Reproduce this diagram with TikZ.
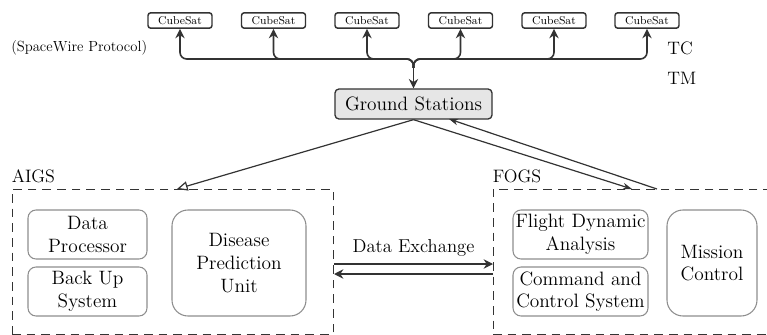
\documentclass[tikz,border=0pt]{standalone}
\usepackage{tikz}
\usetikzlibrary{arrows.meta}
\definecolor{ink}{HTML}{333333}
\definecolor{softgray}{HTML}{8E8E8E}
\definecolor{gsfill}{HTML}{E6E6E6}

\begin{document}
\begin{tikzpicture}[
      x=0.75pt, y=-0.75pt,
      sat/.style={draw=ink, line width=1.1pt, rounded corners=2pt, inner sep=0pt, minimum width=48pt, minimum height=11.5pt, font=\fontsize{8.5}{10}\selectfont},
      ground/.style={draw=ink, fill=gsfill, line width=1pt, rounded corners=3pt, inner sep=0pt, minimum width=117.75pt, minimum height=22.5pt, font=\fontsize{14.5}{17}\selectfont},
      unit/.style={draw=softgray, line width=0.8pt, rounded corners=6pt, align=center, inner sep=0pt, minimum height=36.75pt, font=\fontsize{14.5}{17}\selectfont},
      bigunit/.style={unit, rounded corners=12pt, minimum height=79.5pt},
      segment/.style={draw=ink, line width=0.7pt, dash pattern=on 6.5pt off 4.5pt, inner sep=0pt, minimum height=108.75pt},
      label/.style={inner sep=0pt, anchor=west, font=\fontsize{13.5}{16}\selectfont},
      link/.style={-{Stealth[length=7pt, width=7pt]}, draw=ink, line width=1.2pt},
      feed/.style={-{Stealth[length=7pt, width=5pt]}, draw=ink, line width=0.9pt},
      cast/.style={-{Triangle[open, length=8pt, width=7pt]}, draw=ink, line width=0.9pt}
    ]
    \useasboundingbox (0,0) rectangle (767,335);
    \clip (0,0) rectangle (767,335);

    % satellites on the bus
    \foreach \i/\x in {1/180, 2/273.5, 3/367, 4/460.5, 5/554, 6/647}
      \node[sat] (cs\i) at (\x,20.5) {CubeSat};
    \node[label, font=\fontsize{11}{13}\selectfont] (swp) at (11,48) {(SpaceWire Protocol)};
    \node[label] (tc) at (667,48) {TC};
    \node[label] (tm) at (667,78) {TM};

    \node[ground] (gs) at (413.5,104) {Ground Stations};
    \coordinate (hub) at (413.5,68);

    % ground segments
    \node[segment, minimum width=240.75pt] (aigs) at (172.5,261.5) {};
    \node[segment, minimum width=215.25pt] (fogs) at (636.5,261.5) {};
    \node[label, anchor=south west] (aigslbl) at ([yshift=4pt]aigs.north west) {AIGS};
    \node[label, anchor=south west] (fogslbl) at ([yshift=4pt]fogs.north west) {FOGS};

    \node[unit, minimum width=89.25pt] (dp) at (87.5,234.5) {Data\\Processor};
    \node[unit, minimum width=89.25pt] (bus) at (87.5,291.5) {Back Up\\System};
    \node[bigunit, minimum width=100.5pt] (dpu) at (239,263) {Disease\\Prediction\\Unit};
    \node[unit, minimum width=101.25pt] (fda) at (580.5,234.5) {Flight Dynamic\\Analysis};
    \node[unit, minimum width=101.25pt] (ccs) at (580.5,291.5) {Command and\\Control System};
    \node[bigunit, minimum width=67.5pt] (mc) at (712,263) {Mission\\Control};

    % uplink bus to the satellites
    \foreach \i in {1,...,6}
      \draw[link, rounded corners=5pt] (hub) -- ++(0,-9) -| (cs\i.south);
    \draw[link] (hub) -- (gs.north);

    % ground station to segments
    \coordinate (aigsin) at (177,189);
    \coordinate (fogsin) at (632,189);
    \coordinate (fogsout) at (657,189);
    \coordinate (gsin) at (449,119);
    \draw[cast] (gs.south) -- (aigsin);
    \draw[feed] (gs.south) -- (fogsin);
    \draw[feed] (fogsout) -- (gsin);

    % data exchange between the segments
    \coordinate (aigsx1) at (334,264);
    \coordinate (fogsx1) at (493,264);
    \coordinate (aigsx2) at (334,274);
    \coordinate (fogsx2) at (493,274);
    \draw[link] (aigsx1) -- node[above=5pt, inner sep=0pt, font=\fontsize{14}{16}\selectfont] (dx) {Data Exchange} (fogsx1);
    \draw[link] (fogsx2) -- (aigsx2);
  \end{tikzpicture}
\end{document}
